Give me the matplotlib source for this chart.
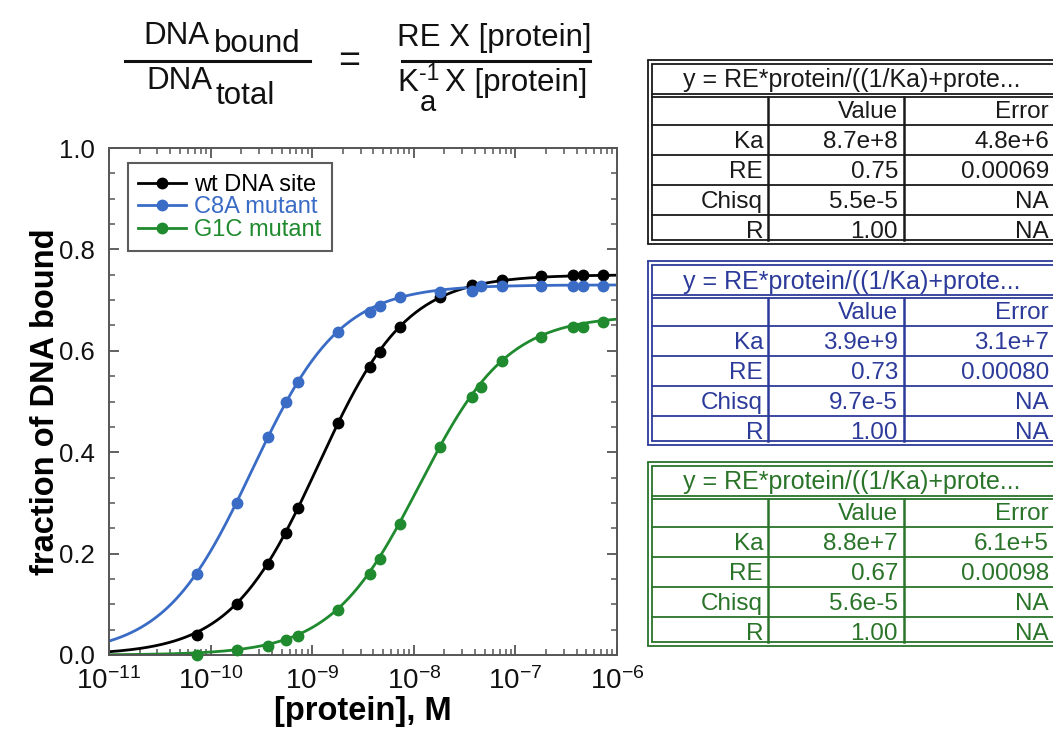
import numpy as np
import matplotlib
matplotlib.use("Agg")
import matplotlib.pyplot as plt
from matplotlib.ticker import LogLocator, FormatStrFormatter, MultipleLocator
from matplotlib.lines import Line2D

plt.rcParams['font.family'] = ['Liberation Sans', 'DejaVu Sans']
plt.rcParams['mathtext.fontset'] = 'custom'
plt.rcParams['mathtext.rm'] = 'Liberation Sans'
plt.rcParams['mathtext.it'] = 'Liberation Sans:italic'
plt.rcParams['mathtext.default'] = 'regular'

# ---------------- data ----------------
series_names = ["wt DNA site", "C8A mutant", "G1C mutant"]
series_colors = ["#000000", "#3a6cc6", "#1f8a2e"]

wt_conc = [7.3e-11, 1.8e-10, 3.7e-10, 5.5e-10, 7.3e-10, 1.8e-9, 3.7e-9, 4.6e-9,
           7.3e-9, 1.8e-8, 3.7e-8, 7.3e-8, 1.8e-7, 3.7e-7, 4.6e-7, 7.3e-7]
wt_frac = [0.040, 0.100, 0.180, 0.240, 0.290, 0.457, 0.569, 0.598,
           0.647, 0.706, 0.730, 0.740, 0.748, 0.749, 0.750, 0.750]

c8a_conc = [7.3e-11, 1.8e-10, 3.7e-10, 5.5e-10, 7.3e-10, 1.8e-9, 3.7e-9, 4.6e-9,
            7.3e-9, 1.8e-8, 3.7e-8, 4.6e-8, 7.3e-8, 1.8e-7, 3.7e-7, 4.6e-7, 7.3e-7]
c8a_frac = [0.159, 0.300, 0.430, 0.499, 0.538, 0.638, 0.676, 0.688,
            0.707, 0.716, 0.718, 0.727, 0.728, 0.728, 0.728, 0.728, 0.728]

g1c_conc = [7.3e-11, 1.8e-10, 3.7e-10, 5.5e-10, 7.3e-10, 1.8e-9, 3.7e-9, 4.6e-9,
            7.3e-9, 1.8e-8, 3.7e-8, 4.6e-8, 7.3e-8, 1.8e-7, 3.7e-7, 4.6e-7, 7.3e-7]
g1c_frac = [0.000, 0.010, 0.018, 0.030, 0.037, 0.089, 0.159, 0.190,
            0.259, 0.410, 0.509, 0.528, 0.579, 0.628, 0.647, 0.647, 0.657]

# fit parameters (from the result tables)
fit_Ka = [8.7e8, 3.9e9, 8.8e7]
fit_RE = [0.75, 0.73, 0.67]

table_title = "y = RE*protein/((1/Ka)+prote..."
table_header = ["", "Value", "Error"]
table_rowlabels = ["Ka", "RE", "Chisq", "R"]
table_values = [
    [["8.7e+8", "4.8e+6"], ["0.75", "0.00069"], ["5.5e-5", "NA"], ["1.00", "NA"]],
    [["3.9e+9", "3.1e+7"], ["0.73", "0.00080"], ["9.7e-5", "NA"], ["1.00", "NA"]],
    [["8.8e+7", "6.1e+5"], ["0.67", "0.00098"], ["5.6e-5", "NA"], ["1.00", "NA"]],
]
table_colors = ["#1a1a1a", "#2c3a9a", "#2a742a"]

x_ticks = [1e-11, 1e-10, 1e-9, 1e-8, 1e-7, 1e-6]
y_ticks = [0.0, 0.2, 0.4, 0.6, 0.8, 1.0]

# ---------------- figure ----------------
W, H = 1053, 731
fig = plt.figure(figsize=(W / 100, H / 100), dpi=100)

ax = fig.add_axes([109 / W, 1 - 655 / H, 508 / W, 507 / H])
concs = [wt_conc, c8a_conc, g1c_conc]
fracs = [wt_frac, c8a_frac, g1c_frac]
xfit = np.logspace(-11, -6, 400)
for c, f, Ka, RE, col in zip(concs, fracs, fit_Ka, fit_RE, series_colors):
    ax.plot(xfit, RE * xfit / (1.0 / Ka + xfit), color=col, lw=2.0, zorder=2)
    ax.plot(c, f, 'o', color=col, ms=7.5, zorder=3, clip_on=False)

ax.set_xscale('log')
ax.set_xlim(1e-11, 1e-6)
ax.set_ylim(0, 1.0)
ax.set_xticks(x_ticks)
ax.xaxis.set_minor_locator(LogLocator(base=10, subs=np.arange(2, 10), numticks=20))
ax.set_yticks(y_ticks)
ax.yaxis.set_minor_locator(MultipleLocator(0.05))
ax.yaxis.set_major_formatter(FormatStrFormatter('%.1f'))
ax.tick_params(which='both', direction='in', top=True, right=True, colors='#555555',
               labelcolor='#111111')
ax.tick_params(axis='x', labelsize=20)
ax.tick_params(axis='y', labelsize=18.5)
ax.tick_params(which='major', length=7, width=1.3)
ax.tick_params(axis='x', which='major', pad=8.5)
ax.tick_params(axis='y', which='major', pad=10)
ax.tick_params(which='minor', length=4, width=1.1)
for s in ax.spines.values():
    s.set_color('#555555')
    s.set_linewidth(1.4)

ax.set_xlabel("[protein], M", fontsize=23.5, fontweight='bold', labelpad=1)
ax.set_ylabel("fraction of DNA bound", fontsize=23.5, fontweight='bold', labelpad=-1)

handles = [Line2D([0], [0], color=col, lw=2.0, marker='o', ms=7.5) for col in series_colors]
leg = ax.legend(handles, series_names, loc='upper left', bbox_to_anchor=(0.037, 0.970),
                borderaxespad=0, fontsize=17, frameon=True, fancybox=False,
                handlelength=2.0, handletextpad=0.35, labelspacing=0.02,
                borderpad=0.45, labelcolor=series_colors)
leg.get_frame().set_edgecolor('#333333')
leg.get_frame().set_linewidth(1.5)

# ---------------- overlay (equation + tables), pixel coordinates ----------------
ov = fig.add_axes([0, 0, 1, 1], zorder=5)
ov.set_xlim(0, W)
ov.set_ylim(H, 0)
ov.axis('off')
ov.patch.set_alpha(0)

ef = 22.5
tk = dict(fontsize=ef, color='#111111', va='baseline', ha='left')
ov.text(143, 44, "DNA", **tk)
ov.text(214, 52, "bound", **tk)
ov.plot([125, 310], [61, 61], color='#111111', lw=2.2)
ov.text(146, 89, "DNA", **tk)
ov.text(216, 104, "total", **tk)
ov.text(349, 72, "=", fontsize=27, color='#111111', ha='center', va='baseline')
ov.text(397, 46, "RE X [protein]", **tk)
ov.plot([402, 590], [61, 61], color='#111111', lw=2.2)
ov.text(397, 91, "K", **tk)
ov.text(419, 80, "-1", fontsize=16.5, color='#111111', va='baseline', ha='left')
ov.text(420, 111, "a", fontsize=21, color='#111111', va='baseline', ha='left')
ov.text(445, 91, "X [protein]", **tk)

# tables
table_tops = [60, 261, 462]
row_h = 30
title_h = 35
x0 = 648
col1 = 768
col2 = 904
xr = 1060
fs_t = 17.5
for ti, top in enumerate(table_tops):
    col = table_colors[ti]
    bottom = top + title_h + 5 * row_h - 1
    lw = 1.3
    # double outer border
    for off in (0, 4):
        ov.plot([x0 + off, x0 + off], [top + off, bottom - off], color=col, lw=lw, solid_capstyle='butt')
        ov.plot([x0 + off, xr], [top + off, top + off], color=col, lw=lw)
        ov.plot([x0 + off, xr], [bottom - off, bottom - off], color=col, lw=lw)
    # title separator (double)
    ty = top + title_h
    ov.plot([x0 + 4, xr], [ty - 1.5, ty - 1.5], color=col, lw=lw)
    ov.plot([x0 + 4, xr], [ty + 1.5, ty + 1.5], color=col, lw=lw)
    # rows
    for r in range(1, 5):
        y = ty + r * row_h
        ov.plot([x0 + 4, xr], [y, y], color=col, lw=lw)
    # column lines
    for cx in (col1, col2):
        ov.plot([cx, cx], [ty + 1.5, bottom - 4], color=col, lw=lw + 0.5)
    # title text
    ov.text(852, top + title_h / 2 + 3, table_title, fontsize=18, color=col,
            ha='center', va='center')
    # header row
    yc = ty + row_h / 2 + 2
    ov.text(col2 - 6, yc, table_header[1], fontsize=fs_t, color=col, ha='right', va='center')
    ov.text(1049, yc, table_header[2], fontsize=fs_t, color=col, ha='right', va='center')
    for r, lab in enumerate(table_rowlabels):
        yc = ty + (r + 1) * row_h + row_h / 2 + 2
        ov.text(col1 - 5, yc, lab, fontsize=fs_t, color=col, ha='right', va='center')
        ov.text(col2 - 6, yc, table_values[ti][r][0], fontsize=fs_t, color=col, ha='right', va='center')
        ov.text(1049, yc, table_values[ti][r][1], fontsize=fs_t, color=col, ha='right', va='center')

fig.savefig("out.png", dpi=100)
